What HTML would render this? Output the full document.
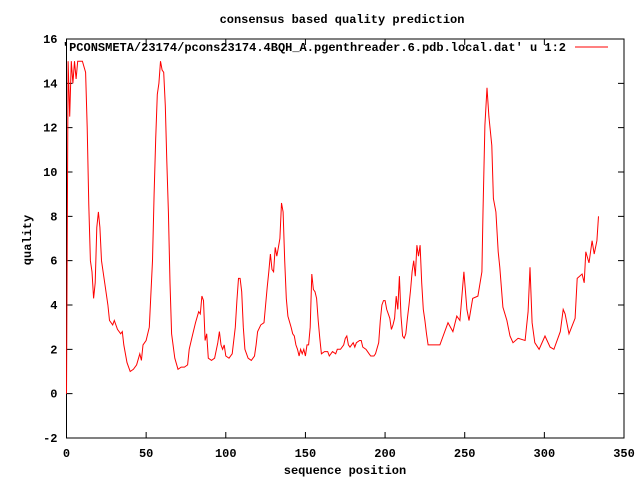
<!DOCTYPE html>
<html><head><meta charset="utf-8"><style>
body{margin:0;background:#fff}
svg text{font-family:"Liberation Mono","DejaVu Sans Mono",monospace;font-size:12px;font-weight:bold;fill:#000}
</style></head><body>
<svg width="640" height="480" xmlns="http://www.w3.org/2000/svg">
<rect width="640" height="480" fill="#fff"/>
<text x="342" y="23" text-anchor="middle">consensus based quality prediction</text>
<g id="axes"></g>
<path id="series" fill="none" stroke="#f00" stroke-width="1"/>
<text x="345" y="474" text-anchor="middle">sequence position</text>
<text transform="translate(31,240) rotate(-90)" text-anchor="middle">quality</text>
<text x="566" y="51" text-anchor="end">'PCONSMETA/23174/pcons23174.4BQH_A.pgenthreader.6.pdb.local.dat' u 1:2</text>
<line x1="575" y1="47" x2="608" y2="47" stroke="#f00"/>
</svg>
<script>
const xTicks=[0,50,100,150,200,250,300,350];
const yTicks=[-2,0,2,4,6,8,10,12,14,16];
const xs=[0,1,2,3,4,5,6,7,10,12,13,14,15,16,17,18,19,20,21,22,24,26,27,29,30,32,34,35,36,38,40,42,44,46,47,48,50,52,53,54,55,56,57,58,59,60,61,62,63,64,65,66,68,70,72,74,76,77,79,81,83,84,85,86,87,88,89,91,93,95,96,97,98,99,100,102,104,106,107,108,109,110,111,112,114,116,118,119,120,122,124,125,126,127,128,129,130,131,132,133,134,135,136,137,138,139,141,142,143,144,145,146,147,148,149,150,151,152,153,154,155,156,157,158,159,160,162,164,165,167,169,170,172,174,175,176,177,178,180,181,182,184,185,186,188,190,191,193,194,196,197,198,199,200,201,202,203,204,205,206,207,208,209,210,211,212,213,214,215,216,217,218,219,220,221,222,223,224,225,226,227,230,232,234.4,239.5,242.6,245,247,249.5,251.4,252.7,255,258.3,260.8,261.5,262.7,264,265.2,267,268,269.6,271,272,274,276.5,278.4,280.3,283.5,287.9,289.8,291,292.3,294,296.7,300.4,303.6,306,310,311.8,313,315.5,319.3,320.6,323.7,325,326,328,330,331.3,333,334];
const ys=[0,15,12.5,15,14,15,14.2,15,15,14.5,12,8.5,6,5.5,4.3,5,7.5,8.2,7.5,6,5,4,3.3,3.1,3.3,2.9,2.7,2.8,2.2,1.4,1,1.1,1.3,1.8,1.5,2.2,2.4,3,4.5,6,9,11.5,13.5,14,15,14.6,14.5,13,10.5,8.2,5,2.7,1.6,1.1,1.2,1.2,1.3,2,2.6,3.2,3.7,3.6,4.4,4.2,2.4,2.7,1.6,1.5,1.6,2.3,2.8,2.2,2,2.2,1.7,1.6,1.8,3,4.2,5.2,5.2,4.6,3,2,1.6,1.5,1.7,2.2,2.8,3.1,3.2,4,4.8,5.5,6.3,5.6,5.5,6.6,6.2,6.6,7,8.6,8.2,6,4.3,3.5,3,2.7,2.6,2.2,2,1.7,2,1.8,2,1.7,2.2,2.2,3,5.4,4.7,4.6,4.3,3.3,2.5,1.8,1.9,1.9,1.7,1.9,1.8,2,2,2.2,2.5,2.6,2.2,2.1,2.3,2.1,2.3,2.4,2.4,2.1,2,1.8,1.7,1.7,1.8,2.3,3.3,4,4.2,4.2,3.8,3.6,3.4,2.9,3.1,3.4,4.4,3.8,5.3,3.5,2.6,2.5,2.7,3.4,4,4.7,5.5,6,5.3,6.7,6.2,6.7,5,3.8,3.3,2.7,2.2,2.2,2.2,2.2,3.2,2.8,3.5,3.3,5.5,3.8,3.3,4.3,4.4,5.5,8.2,12.1,13.8,12.5,11.2,8.8,8.2,6.4,5.7,3.9,3.3,2.6,2.3,2.5,2.4,3.7,5.7,3.2,2.3,2,2.6,2.1,2,2.8,3.8,3.6,2.7,3.4,5.2,5.4,5,6.4,5.9,6.9,6.3,6.9,8];
const L=66.5,R=624,T=39,B=438;
const xS=v=>L+(v-0)/(350-0)*(R-L);
const yS=v=>B-(v+2)/18*(B-T);
const NS='http://www.w3.org/2000/svg';
const ax=document.getElementById('axes');
function mk(tag,attrs,txt){const e=document.createElementNS(NS,tag);for(const k in attrs)e.setAttribute(k,attrs[k]);if(txt!==undefined)e.textContent=txt;ax.appendChild(e);return e;}
const fr=mk('rect',{x:L,y:T,width:R-L,height:B-T,fill:'none',stroke:'#000'});


xTicks.forEach(t=>{const x=xS(t);
 const a=mk('path',{d:`M${x},${B}v-6M${x},${T}v6`,stroke:'#000'});
 
 
 const l=mk('text',{x:x,y:B+19,'text-anchor':'middle'},String(t));
 
 });
yTicks.forEach(t=>{const y=yS(t);
 const a=mk('path',{d:`M${L},${y}h6M${R},${y}h-6`,stroke:'#000'});
 
 
 const l=mk('text',{x:L-9,y:y+4,'text-anchor':'end'},String(t));
 
 });
document.getElementById('series').setAttribute('d',xs.map((x,i)=>(i?'L':'M')+xS(x).toFixed(1)+','+yS(ys[i]).toFixed(1)).join(''));
</script>
</body></html>
